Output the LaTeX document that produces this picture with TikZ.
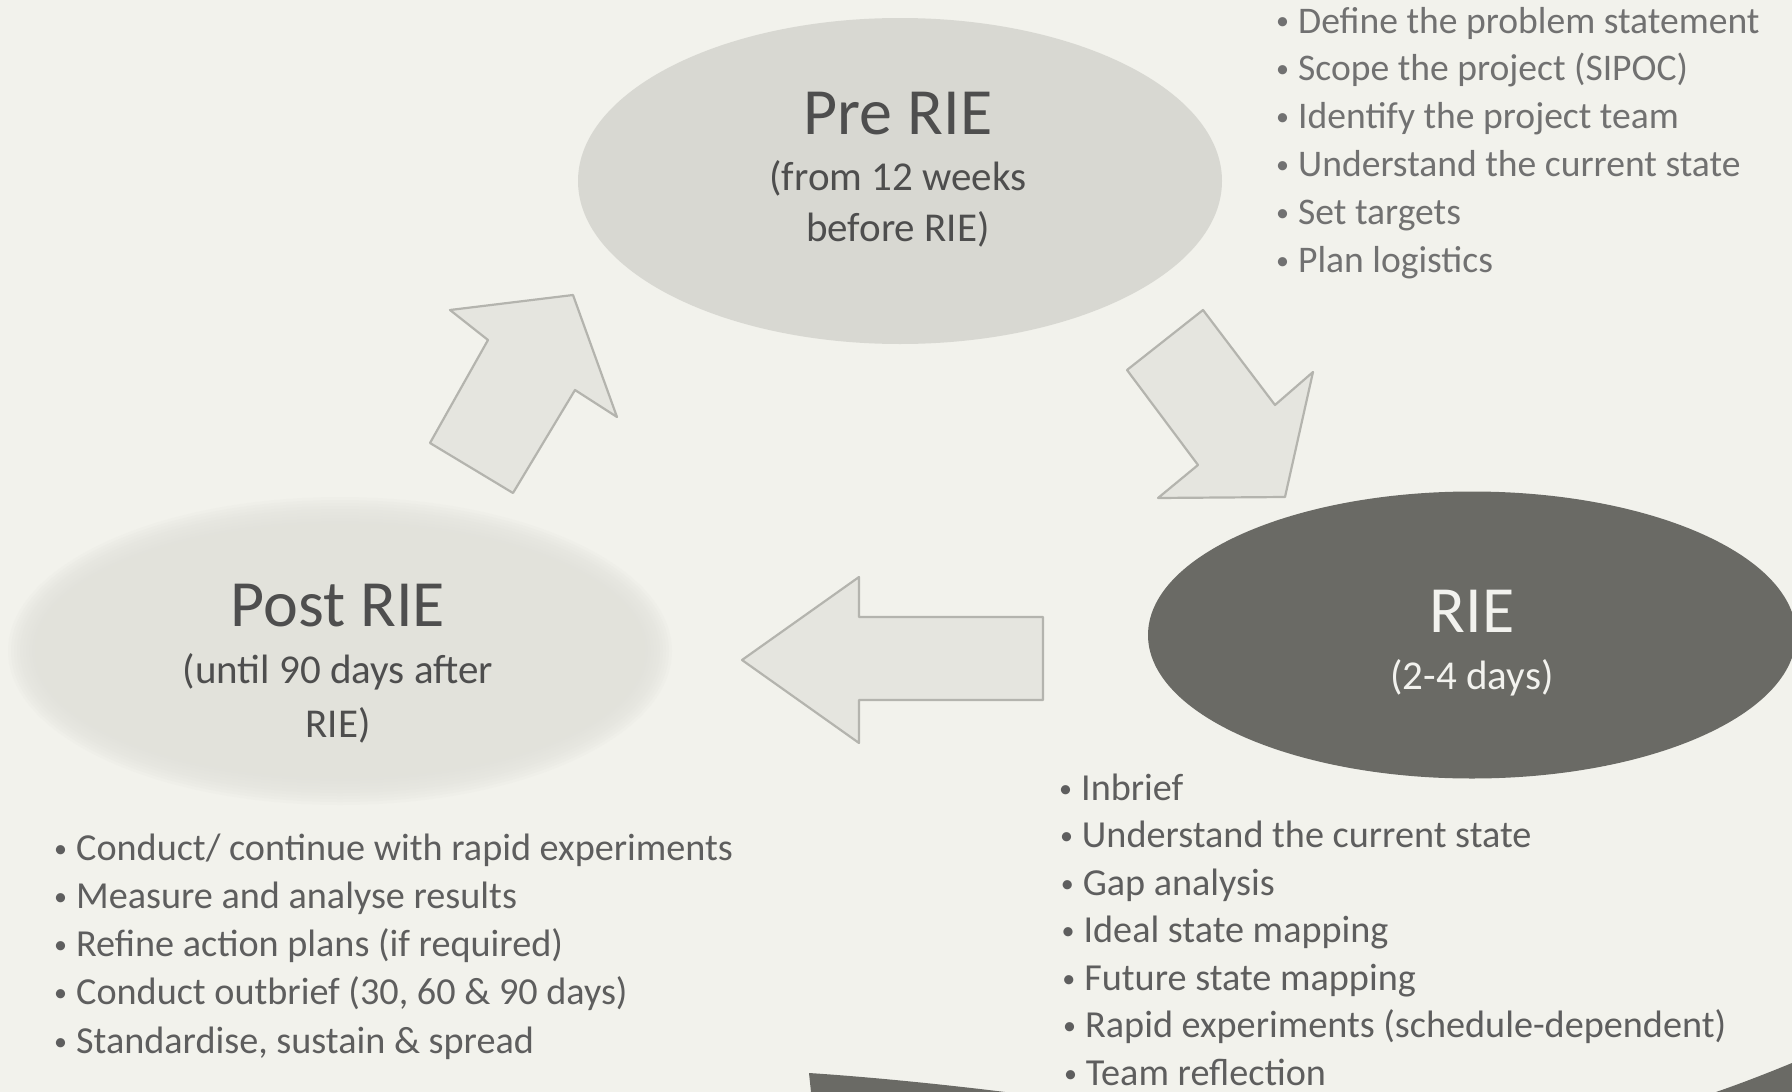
\documentclass[tikz,border=0pt]{standalone}
\usepackage{fontspec}
\setmainfont{Carlito}
\usetikzlibrary{shapes.geometric}
\definecolor{paper}{HTML}{F2F2EC}
\definecolor{prefill}{HTML}{D8D8D2}
\definecolor{postfill}{HTML}{E2E2DB}
\definecolor{riefill}{HTML}{6A6A65}
\definecolor{arrowfill}{HTML}{E5E5DF}
\definecolor{arrowdraw}{HTML}{B4B4AE}
\definecolor{ttxt}{HTML}{4E4E4E}
\definecolor{rietxt}{HTML}{F2F2EE}
\definecolor{ltxt}{HTML}{5E5E5E}
\definecolor{ltxtlight}{HTML}{717171}
\newcommand{\blt}{\raisebox{3pt}{\fontsize{26}{26}\selectfont •}\hspace{9pt}}
\begin{document}
\begin{tikzpicture}[x=1pt,y=-1pt,
  ell/.style={ellipse, inner sep=0pt, draw=none},
  title/.style={anchor=base, font=\fontsize{66}{70}\selectfont, text=ttxt, inner sep=0pt},
  sub/.style={anchor=base, font=\fontsize{41}{50}\selectfont, text=ttxt, inner sep=0pt},
  item/.style={anchor=base west, font=\fontsize{38.2}{44}\selectfont, text=ltxt, inner sep=0pt},
  itemtop/.style={item, font=\fontsize{37.6}{44}\selectfont, text=ltxtlight},
  blockarrow/.style={fill=arrowfill, draw=arrowdraw, line width=2.2pt, line join=round},
]
\fill[paper] (0,0) rectangle (1792,1092);
\useasboundingbox (0,0) rectangle (1792,1092);

% ellipses
\node[ell, fill=prefill, minimum width=644pt, minimum height=326pt] (pre) at (900,181) {};
\foreach \k in {1,...,10}{
  \fill[postfill, opacity=0.17] (340,651) ellipse [x radius={302+3*\k}, y radius={124+3*\k}];
}
\node[ell, fill=postfill, minimum width=604pt, minimum height=248pt] (post) at (340,651) {};
\node[ell, fill=riefill, minimum width=648pt, minimum height=287pt] (rie) at (1472,635) {};

% block arrows
\coordinate (ua1) at (430,443); \coordinate (ua2) at (488,340); \coordinate (ua3) at (450,310);
\coordinate (ua4) at (573,295); \coordinate (ua5) at (617,417); \coordinate (ua6) at (575,390);
\coordinate (ua7) at (513,493);
\draw[blockarrow] (ua1) -- (ua2) -- (ua3) -- (ua4) -- (ua5) -- (ua6) -- (ua7) -- cycle;

\coordinate (da1) at (1203,310); \coordinate (da2) at (1275,405); \coordinate (da3) at (1313,372);
\coordinate (da4) at (1285,497); \coordinate (da5) at (1158,498); \coordinate (da6) at (1198,465);
\coordinate (da7) at (1127,370);
\draw[blockarrow] (da1) -- (da2) -- (da3) -- (da4) -- (da5) -- (da6) -- (da7) -- cycle;

\coordinate (la1) at (1043,617); \coordinate (la2) at (859,617); \coordinate (la3) at (859,577);
\coordinate (la4) at (742,660); \coordinate (la5) at (859,743); \coordinate (la6) at (859,700);
\coordinate (la7) at (1043,700);
\draw[blockarrow] (la1) -- (la2) -- (la3) -- (la4) -- (la5) -- (la6) -- (la7) -- cycle;

% bottom dark shapes (edge of next figure)
\fill[riefill] (809,1073) .. controls (870,1077) and (940,1084) .. (1005,1092) -- (811,1092) -- cycle;
\fill[riefill] (1716,1092) .. controls (1745,1082) and (1770,1072) .. (1792,1063) -- (1792,1092) -- cycle;

% ellipse texts
\node[title] (pretitle) at (898,134) {Pre RIE};
\node[sub] (presub1) at (898,190) {(from 12 weeks};
\node[sub] (presub2) at (898,241) {before RIE)};

\node[title, text=rietxt] (rietitle) at (1472,632) {RIE};
\node[sub, text=rietxt] (riesub) at (1472,689) {(2-4 days)};

\node[title] (posttitle) at (338,626) {Post RIE};
\node[sub] (postsub1) at (338,683) {(until 90 days after};
\node[sub] (postsub2) at (338,737) {RIE)};

% lists
\foreach \t [count=\i] in {Define the problem statement, Scope the project (SIPOC), Identify the project team, Understand the current state, Set targets, Plan logistics}{
  \node[itemtop] (tr\i) at (1276,{33+47.8*(\i-1)}) {\blt\t};
}
\foreach \t [count=\i] in {Conduct/ continue with rapid experiments, Measure and analyse results, Refine action plans (if required), {Conduct outbrief (30, 60 \& 90 days)}, {Standardise, sustain \& spread}}{
  \node[item] (bl\i) at (54,{860+48.3*(\i-1)}) {\blt\t};
}
\foreach \t [count=\i] in {Inbrief, Understand the current state, Gap analysis, Ideal state mapping, Future state mapping, Rapid experiments (schedule-dependent), Team reflection}{
  \node[item] (br\i) at ({1059+0.8*(\i-1)},{800+47.5*(\i-1)}) {\blt\t};
}
\end{tikzpicture}
\end{document}
